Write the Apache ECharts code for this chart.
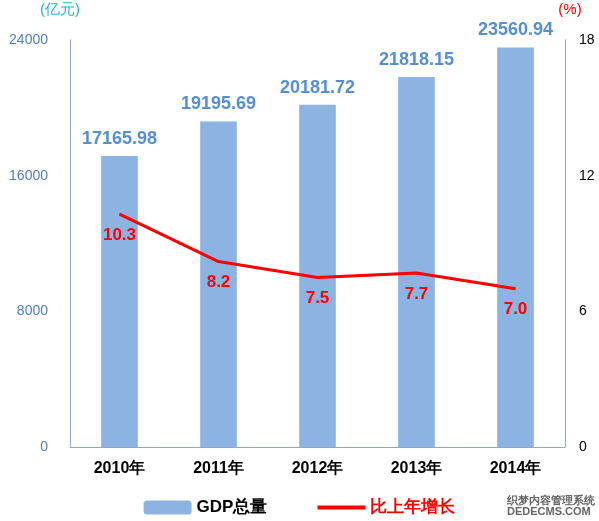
<!DOCTYPE html><html><head><meta charset="utf-8">
<script src="https://cdn.jsdelivr.net/npm/echarts@6/dist/echarts.min.js"></script>
<style>html,body{margin:0;padding:0;background:#fff}#c{width:599px;height:521px}</style></head><body><div id="c"></div><script>
const categories=['2010年','2011年','2012年','2013年','2014年'];
const gdp=[17165.98,19195.69,20181.72,21818.15,23560.94];
const growth=[10.3,8.2,7.5,7.7,7.0];
const leftTicks=[0,8000,16000,24000];
const rightTicks=[0,6,12,18];
const ch=echarts.init(document.getElementById('c'));
ch.setOption({
animation:false,
grid:{left:70,right:34,top:40,bottom:74},
legend:{bottom:0,left:'center',itemGap:50,itemWidth:48,itemHeight:14,
 data:[{name:'GDP总量',textStyle:{color:'#000',fontSize:17,fontWeight:'bold'}},
       {name:'比上年增长',icon:'path://M0,0L48,0L48,4L0,4Z',itemStyle:{color:'#ff0000'},textStyle:{color:'#ff0000',fontSize:17,fontWeight:'bold'}}]},
xAxis:{type:'category',data:categories,axisTick:{show:false},
 axisLine:{lineStyle:{color:'#8ea9c8'}},
 axisLabel:{color:'#000',fontWeight:'bold',fontSize:16,margin:14}},
yAxis:[{type:'value',min:0,max:24000,interval:8000,name:'(亿元)',nameLocation:'end',
  nameTextStyle:{color:'#2ab0d8',fontSize:15,align:'right',padding:[0,-10,8,0]},
  splitLine:{show:false},axisLine:{show:true,lineStyle:{color:'#8ea9c8'}},axisTick:{show:false},
  axisLabel:{color:'#4f81bd',fontSize:14,margin:22,formatter:v=>String(v)}},
 {type:'value',min:0,max:18,interval:6,name:'(%)',
  nameTextStyle:{color:'#ff0000',fontSize:15,padding:[0,0,8,10]},
  splitLine:{show:false},axisLine:{show:true,lineStyle:{color:'#8ea9c8'}},axisTick:{show:false},
  axisLabel:{color:'#000',fontSize:14,margin:14}}],
series:[{name:'GDP总量',type:'bar',data:gdp,barWidth:'37%',itemStyle:{color:'#8db3e2'},
  label:{show:true,position:'top',color:'#558ed5',fontWeight:'bold',fontSize:18,distance:8}},
 {name:'比上年增长',type:'line',yAxisIndex:1,data:growth,symbol:'circle',symbolSize:1,showSymbol:true,
  lineStyle:{color:'#ff0000',width:3},itemStyle:{color:'#ff0000'},
  label:{show:true,position:'bottom',distance:12,color:'#ff0000',fontWeight:'bold',fontSize:17,formatter:p=>p.value.toFixed(1)}}],
graphic:[{type:'text',right:4,bottom:4,style:{text:'织梦内容管理系统\nDEDECMS.COM',fill:'#666',font:'bold 11px sans-serif',align:'center'}}]
});
</script></body></html>
